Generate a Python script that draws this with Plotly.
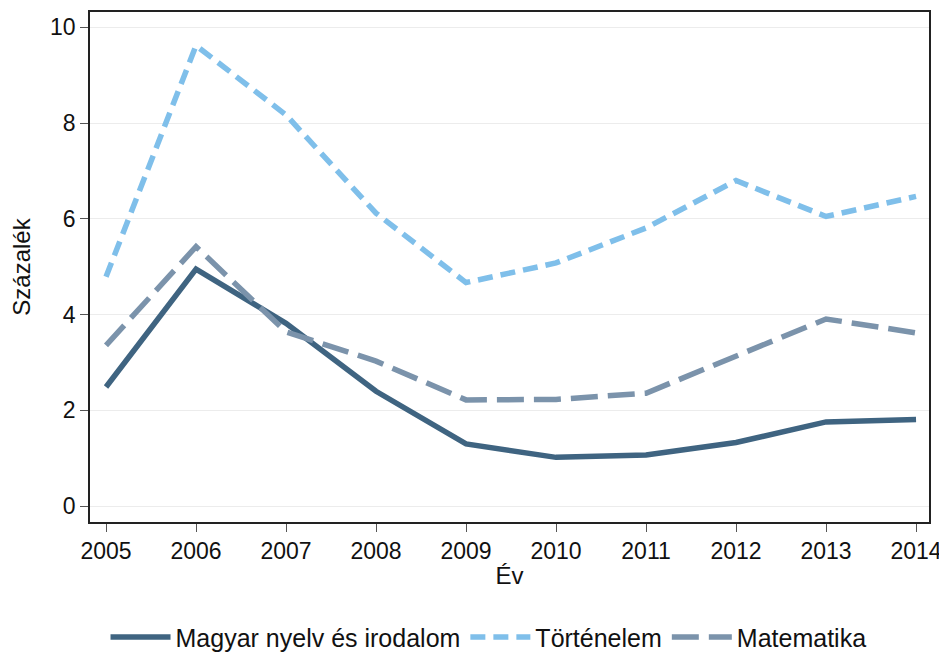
import plotly.graph_objects as go

years = [2005, 2006, 2007, 2008, 2009, 2010, 2011, 2012, 2013, 2014]
magyar = [2.49, 4.95, 3.82, 2.40, 1.30, 1.02, 1.07, 1.33, 1.76, 1.81]
tortenelem = [4.79, 9.62, 8.17, 6.12, 4.67, 5.08, 5.81, 6.80, 6.05, 6.47]
matematika = [3.36, 5.42, 3.64, 3.03, 2.22, 2.23, 2.36, 3.13, 3.91, 3.62]

series = [
    ("Magyar nyelv és irodalom", magyar, "#3f6481", "solid"),
    ("Történelem", tortenelem, "#7fbfea", "15px,8px"),
    ("Matematika", matematika, "#7b93ab", "27px,10px"),
]

fig = go.Figure()
for name, vals, color, dash in series:
    fig.add_trace(go.Scatter(x=years, y=vals, name=name, mode="lines",
                             line=dict(color=color, width=5.5, dash=dash)))

# page body has an 8px margin, so the figure is sized to fit the 947x657 window
fig.update_layout(
    width=939, height=649,
    margin=dict(l=82, r=18, t=4, b=135, autoexpand=False),
    paper_bgcolor="white", plot_bgcolor="white",
    font=dict(family="Liberation Sans, Arial, sans-serif", size=24, color="#111"),
    showlegend=True,
    legend=dict(orientation="h", x=0.475, xanchor="center", y=-0.226, yanchor="middle",
                font=dict(size=25), tracegroupgap=0, itemwidth=60),
    xaxis=dict(range=[2004.822, 2014.144], tickvals=years, ticks="outside", ticklen=8,
               tickcolor="#555", showgrid=False, zeroline=False, automargin=False,
               showline=True, linecolor="#222", linewidth=1.5, mirror=True,
               title=dict(text="Év", font=dict(size=24), standoff=4),
               tickfont=dict(size=23)),
    yaxis=dict(range=[-0.33, 10.32], tickvals=[0, 2, 4, 6, 8, 10], ticks="outside", ticklen=8,
               tickcolor="#555", showgrid=True, gridcolor="#ececec", gridwidth=1, zeroline=False,
               automargin=False,
               showline=True, linecolor="#222", linewidth=1.5, mirror=True,
               title=dict(text="Százalék", font=dict(size=24), standoff=14),
               tickfont=dict(size=23)),
)

fig.write_html("out.html")
